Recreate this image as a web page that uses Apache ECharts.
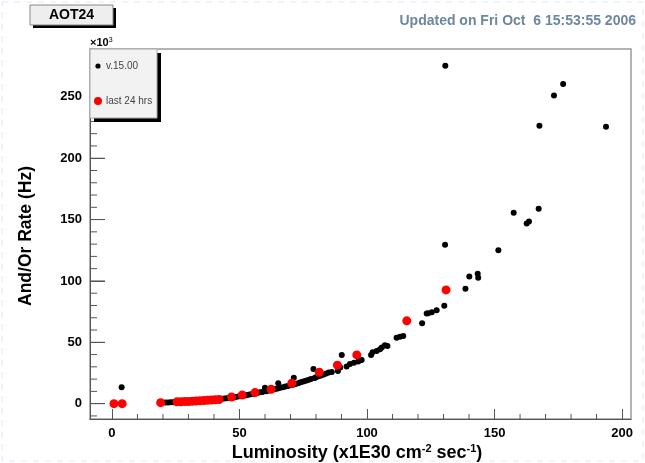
<!DOCTYPE html>
<html>
<head>
<meta charset="utf-8">
<script src="https://cdn.jsdelivr.net/npm/echarts@6/dist/echarts.min.js"></script>
<style>
  html, body { margin: 0; padding: 0; background: #fff; }
  #chart { width: 645px; height: 463px; }
</style>
</head>
<body>
<div id="chart"></div>
<script>
// luminosity (x1E30) vs rate (x10^3 Hz)
var allRuns = [
  [3.8,13.4],[21,0.9],[22,1.0],[23,1.1],[24,1.2],[25,1.3],[26,1.4],[27,1.5],[28,1.6],[29,1.7],
  [30,1.9],[31,2.0],[32,2.1],[33,2.2],[34,2.4],[35,2.5],[36,2.7],[37,2.8],[38,3.0],[39,3.2],
  [40,3.3],[41,3.5],[42,3.7],[43,4.0],[44,4.2],[45,4.5],[46,4.8],[47,5.0],[48,5.3],[49,5.6],
  [50,6.0],[51,6.3],[52,6.7],[53,7.1],[54,7.5],[55,7.9],[56,8.3],[57,8.7],[58,9.2],[59,9.6],
  [60,13.0],[60.5,10.1],[61,10.5],[62,11.0],[63,11.4],[64,11.9],[65,12.4],[65.2,16.6],[66,12.9],
  [67,13.4],[68,13.9],[69,14.4],[70,15.0],[71,15.5],[71.3,21.2],[72,16.1],[73,16.7],[74,17.4],
  [75,18.0],[76,18.7],[77,19.3],[78,20.0],[79,28.2],[79.5,20.9],[80,21.6],[81,22.3],[82,23.0],
  [83,23.7],[84,24.5],[85,25.3],[86.2,25.9],[88.6,26.7],[89.5,29.5],[90.1,39.7],[92,30.2],
  [93.3,32.4],[94.9,33.4],[96.6,34.3],[97.9,35.6],[101.6,39.7],[102.2,41.9],[103.8,43.0],
  [105.1,44.4],[105.8,45.7],[107,47.6],[108,47.0],[111.6,53.8],[112.9,54.6],[114.2,55.2],
  [121.6,65.6],[123.4,73.4],[124,73.7],[125.4,74.5],[127.3,76.2],[130.3,79.7],[130.6,129.4],
  [130.7,275.4],[138.6,93.6],[140.1,103.6],[143.4,105.8],[143.6,102.7],[151.5,125.1],
  [157.5,155.5],[162.6,146.8],[163.5,148.5],[167.3,158.8],[167.6,226.5],[173.3,251.2],
  [176.9,260.5],[193.7,225.7]
];
var last24 = [
  [0.8,0],[4.0,0],[19.1,0.8],[25.5,1.5],[27,1.6],[28.5,1.7],[30,1.8],[31.5,2.0],[33,2.1],
  [34.5,2.3],[36,2.5],[37.5,2.7],[39,2.9],[40.5,3.1],[42,3.4],[46.9,5.4],[51.1,7.1],[56.1,9.0],
  [62.4,11.7],[70.5,16.6],[81.3,25.6],[88.4,31.4],[96,39.7],[115.6,67.5],[131,92.7]
];
var xMajor = [0, 50, 100, 150, 200];
var xMinor = [10, 20, 30, 40, 60, 70, 80, 90, 110, 120, 130, 140, 160, 170, 180, 190];
var yMajor = [0, 50, 100, 150, 200, 250];
var yMinor = [-10, 10, 20, 30, 40, 60, 70, 80, 90, 110, 120, 130, 140, 160, 170, 180, 190,
  210, 220, 230, 240, 260, 270, 280];

var font = "'Liberation Sans', Arial, sans-serif";
var X_MIN = -8.6, X_MAX = 203.5, Y_MIN = -12.5, Y_MAX = 289;
var tickColor = "#555";

// tick marks as thin rect symbols sitting on the axes
function tickSeries(points, size, offset) {
  return {
    type: "scatter",
    silent: true,
    clip: false,
    z: 5,
    symbol: "rect",
    symbolSize: size,
    symbolOffset: offset,
    itemStyle: { color: tickColor, opacity: 1 },
    data: points
  };
}

var myChart = echarts.init(document.getElementById("chart"));
myChart.setOption({
  animation: false,
  backgroundColor: "#fff",
  grid: {
    left: 90,
    top: 49,
    right: 14,
    bottom: 44,
    show: true,
    backgroundColor: "transparent",
    borderColor: "#9a9a9a",
    borderWidth: 1.5
  },
  xAxis: {
    type: "value",
    min: X_MIN,
    max: X_MAX,
    splitLine: { show: false },
    axisLine: { show: true, onZero: false, lineStyle: { color: tickColor } },
    axisTick: { show: true, inside: true, length: 10, customValues: xMajor, lineStyle: { color: tickColor } },
    axisLabel: {
      customValues: xMajor,
      margin: 8,
      color: "#000",
      fontFamily: font,
      fontWeight: "bold",
      fontSize: 13
    }
  },
  yAxis: {
    type: "value",
    min: Y_MIN,
    max: Y_MAX,
    splitLine: { show: false },
    axisLine: { show: true, onZero: false, lineStyle: { color: tickColor } },
    axisTick: { show: true, inside: true, length: 15, customValues: yMajor, lineStyle: { color: tickColor } },
    axisLabel: {
      customValues: yMajor,
      margin: 8,
      color: "#000",
      fontFamily: font,
      fontWeight: "bold",
      fontSize: 13
    }
  },
  series: [
    tickSeries(xMinor.map(function (v) { return [v, Y_MIN]; }), [1, 5], [0, -2.5]),
    tickSeries(yMinor.map(function (v) { return [X_MIN, v]; }), [7, 1], [3.5, 0]),
    tickSeries(yMajor.map(function (v) { return [X_MIN, v]; }), [15, 1], [7.5, 0]),
    {
      name: "v.15.00",
      type: "scatter",
      symbolSize: 6,
      z: 20,
      itemStyle: { color: "#000", opacity: 1 },
      data: allRuns
    },
    {
      name: "last 24 hrs",
      type: "scatter",
      symbolSize: 9,
      z: 21,
      itemStyle: { color: "#ff0000", opacity: 1 },
      data: last24
    }
  ],
  graphic: [
    // faint page border
    {
      type: "rect", z: 1, silent: true,
      shape: { x: 2, y: 2, width: 641, height: 459 },
      style: { fill: null, stroke: "#dfe6f7", lineWidth: 1, lineDash: [6, 6] }
    },
    // title box
    {
      type: "rect", z: 100,
      shape: { x: 33, y: 8, width: 83, height: 20 },
      style: { fill: "#000" }
    },
    {
      type: "rect", z: 101,
      shape: { x: 30, y: 5, width: 83, height: 20 },
      style: { fill: "#eeeeee", stroke: "#888", lineWidth: 1 }
    },
    {
      type: "text", z: 102, x: 71.5, y: 15,
      style: {
        text: "AOT24", fill: "#000", font: "bold 14px " + font,
        align: "center", verticalAlign: "middle"
      }
    },
    {
      type: "text", z: 102, x: 636, y: 21,
      style: {
        text: "Updated on Fri Oct  6 15:53:55 2006", fill: "#6d879e",
        font: "bold 14px " + font, align: "right", verticalAlign: "middle"
      }
    },
    // exponent
    {
      type: "text", z: 102, x: 90, y: 43,
      style: {
        text: "{a|×10}{s|3}", verticalAlign: "middle",
        rich: {
          a: { fontSize: 11, fontFamily: font, fill: "#000", fontWeight: "bold" },
          s: { fontSize: 7, fontFamily: font, fill: "#000", verticalAlign: "top", padding: [0, 0, 6, 0] }
        }
      }
    },
    // legend box
    {
      type: "rect", z: 100,
      shape: { x: 94, y: 53, width: 67, height: 69 },
      style: { fill: "#000" }
    },
    {
      type: "rect", z: 101,
      shape: { x: 90, y: 49, width: 67, height: 69 },
      style: { fill: "#f2f2f2", stroke: "#aaa", lineWidth: 1 }
    },
    {
      type: "circle", z: 102,
      shape: { cx: 98, cy: 66, r: 2.6 },
      style: { fill: "#000" }
    },
    {
      type: "circle", z: 102,
      shape: { cx: 98, cy: 101, r: 4 },
      style: { fill: "#ff0000" }
    },
    {
      type: "text", z: 102, x: 106, y: 66,
      style: { text: "v.15.00", fill: "#444", font: "10px " + font, verticalAlign: "middle" }
    },
    {
      type: "text", z: 102, x: 106, y: 101,
      style: { text: "last 24 hrs", fill: "#444", font: "10px " + font, verticalAlign: "middle" }
    },
    // y-axis title
    {
      type: "text", z: 102, x: 26, y: 236, rotation: Math.PI / 2,
      style: {
        text: "And/Or Rate (Hz)", fill: "#000", font: "bold 17.5px " + font,
        align: "center", verticalAlign: "middle"
      }
    },
    // x-axis title
    {
      type: "text", z: 102, x: 357, y: 453,
      style: {
        text: "{a|Luminosity (x1E30 cm}{s|-2}{a| sec}{s|-1}{a|)}",
        align: "center", verticalAlign: "middle",
        rich: {
          a: { fontSize: 18, fontFamily: font, fontWeight: "bold", fill: "#000" },
          s: { fontSize: 11, fontFamily: font, fontWeight: "bold", fill: "#000", verticalAlign: "top", padding: [0, 0, 9, 0] }
        }
      }
    }
  ]
});
myChart.resize();
</script>
</body>
</html>
